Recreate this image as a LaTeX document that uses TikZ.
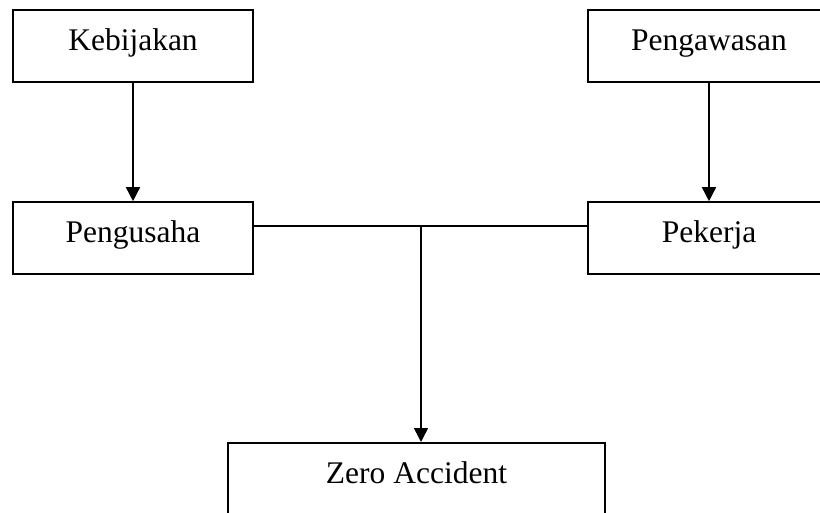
\documentclass[tikz,border=0pt]{standalone}
\usepackage{fontspec}
\setmainfont{Liberation Serif}
\usetikzlibrary{arrows.meta}
\begin{document}
\begin{tikzpicture}[x=1pt,y=-1pt,
  box/.style={draw, line width=1.6pt, inner sep=0pt, font=\fontsize{31.5}{36}\selectfont,
    text height=20pt, text depth=10pt},
  conn/.style={line width=1.6pt},
  arr/.style={conn, -{Triangle[width=14pt,length=14pt]}}]
\useasboundingbox (0,0) rectangle (820,513);
\clip (0,0) rectangle (820,513);
\fill[white] (0,0) rectangle (820,513);
\node[box, minimum width=240pt, minimum height=72pt] (keb) at (133,46) {Kebijakan};
\node[box, minimum width=240pt, minimum height=72pt] (pus) at (133,238) {Pengusaha};
\node[box, minimum width=242pt, minimum height=72pt] (paw) at (709,46) {Pengawasan};
\node[box, minimum width=242pt, minimum height=72pt] (pek) at (709,238) {Pekerja};
\node[box, minimum width=377pt, text height=41pt, text depth=45pt, anchor=north] (za) at (416.5,442) {Zero Accident};
\draw[arr] (keb) -- (pus);
\draw[arr] (paw) -- (pek);
\coordinate (j) at (421,226);
\draw[conn] (j -| pus.east) -- (j -| pek.west);
\draw[arr] (j) -- (j |- za.north);
\end{tikzpicture}
\end{document}
